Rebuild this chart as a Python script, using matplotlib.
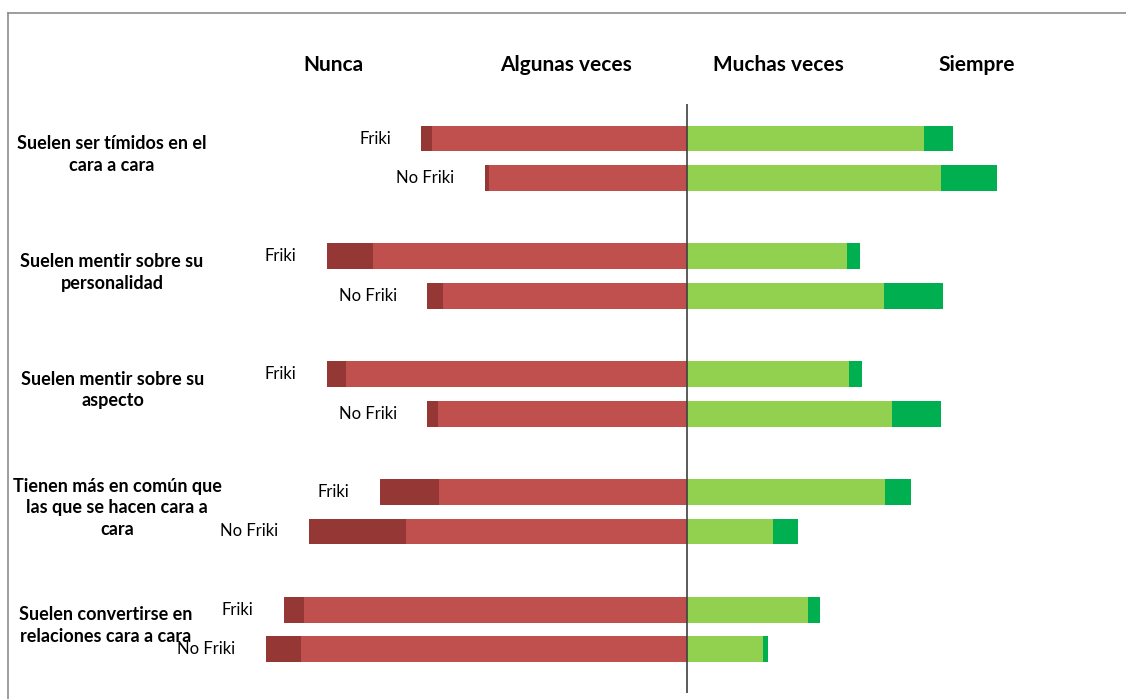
import matplotlib.pyplot as plt
import matplotlib.transforms as mtransforms
from matplotlib.lines import Line2D

plt.rcParams['font.family'] = ['Lato', 'DejaVu Sans']

categories = [
    'Suelen ser tímidos en el\ncara a cara',
    'Suelen mentir sobre su\npersonalidad',
    'Suelen mentir sobre su\naspecto',
    'Tienen más en común que\nlas que se hacen cara a\ncara',
    'Suelen convertirse en\nrelaciones cara a cara',
]
groups = ['Friki', 'No Friki']
answers = ['Nunca', 'Algunas veces', 'Muchas veces', 'Siempre']

# percentages
nunca_friki = [1.9, 8.7, 3.6, 11.1, 3.7]
algunas_friki = [48.1, 59.2, 64.2, 46.7, 72.2]
muchas_friki = [44.8, 30.3, 30.7, 37.5, 22.9]
siempre_friki = [5.5, 2.5, 2.5, 4.8, 2.2]

nunca_nofriki = [0.9, 3.0, 2.1, 18.3, 6.6]
algunas_nofriki = [37.2, 45.9, 46.8, 53.0, 72.8]
muchas_nofriki = [48.0, 37.3, 38.8, 16.4, 14.4]
siempre_nofriki = [10.6, 11.1, 9.2, 4.6, 0.9]

COLORS = ['#953735', '#C0504D', '#92D050', '#00B050']
W, H = 1126, 699

fig = plt.figure(figsize=(W / 100, H / 100), dpi=100)
center_px = 686.5
px_per_unit = 5.3
ax_left, ax_right = 160, 1110
ax = fig.add_axes([ax_left / W, 1 - 693 / H, (ax_right - ax_left) / W, (693 - 104) / H])
ax.set_xlim((ax_left - center_px) / px_per_unit, (ax_right - center_px) / px_per_unit)
ax.set_ylim(14.11, -0.878)

series = [
    (nunca_friki, algunas_friki, muchas_friki, siempre_friki),
    (nunca_nofriki, algunas_nofriki, muchas_nofriki, siempre_nofriki),
]
bar_h = 0.66
for gi, (nun, alg, muc, sie) in enumerate(series):
    ys = [3 * i + gi for i in range(len(categories))]
    ax.barh(ys, [-a for a in alg], height=bar_h, color=COLORS[1], lw=0)
    ax.barh(ys, [-n for n in nun], left=[-a for a in alg], height=bar_h, color=COLORS[0], lw=0)
    ax.barh(ys, muc, height=bar_h, color=COLORS[2], lw=0)
    ax.barh(ys, sie, left=muc, height=bar_h, color=COLORS[3], lw=0)
    for y, n, a in zip(ys, nun, alg):
        ax.annotate(groups[gi], xy=(-(n + a), y), xytext=(-22, 0), textcoords='offset points',
                    ha='right', va='center', fontsize=12, color='#000000')

ax.axvline(0, color='#404040', lw=1.2)
ax.axis('off')

# category labels on the left
label_x = [112, 112, 113, 117, 106]
trans = mtransforms.blended_transform_factory(fig.transFigure, ax.transData)
for i, cat in enumerate(categories):
    ax.text(label_x[i] / W, 3 * i + 0.4, cat, transform=trans, ha='center', va='center',
            fontsize=13, fontweight='bold', linespacing=1.35, clip_on=False)

# header row
header_x = [333, 566, 778, 977]
for x, lab in zip(header_x, answers):
    fig.text(x / W, 1 - 65 / H, lab, ha='center', va='center', fontsize=15, fontweight='bold')

# outer frame
fig.add_artist(Line2D([8 / W, 1], [1 - 13 / H, 1 - 13 / H], transform=fig.transFigure,
                      color='#8c8c8c', lw=1.2))
fig.add_artist(Line2D([8 / W, 8 / W], [0, 1 - 13 / H], transform=fig.transFigure,
                      color='#8c8c8c', lw=1.2))

plt.savefig('out.png', dpi=100)
